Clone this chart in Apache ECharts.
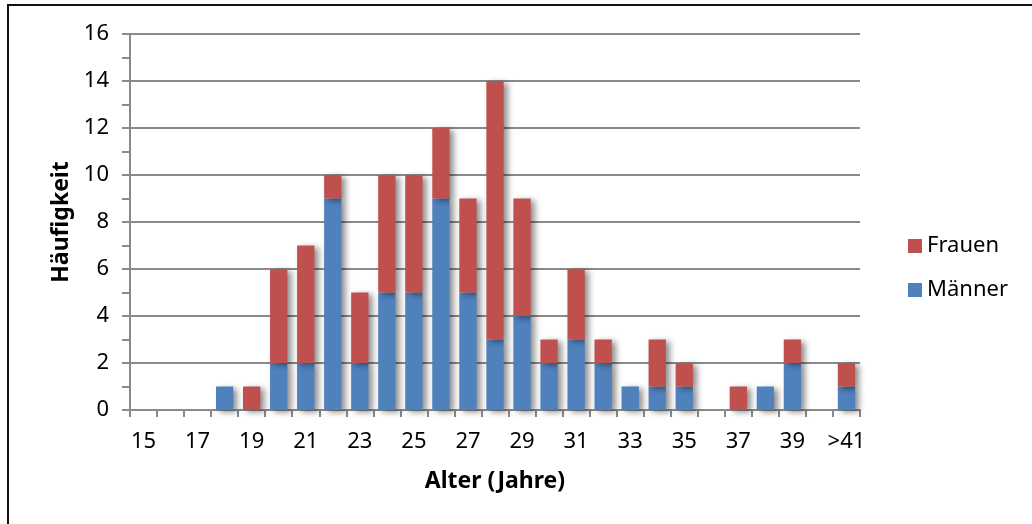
<!DOCTYPE html>
<html>
<head>
<meta charset="utf-8">
<script src="https://cdn.jsdelivr.net/npm/echarts@6/dist/echarts.min.js"></script>
<style>
html,body{margin:0;padding:0;background:#fff;}
#frame{position:absolute;left:7px;top:4px;width:1030px;height:530px;border-top:2px solid #111;border-left:2px solid #111;}
#chart{position:absolute;left:0;top:0;width:1032px;height:524px;}
</style>
</head>
<body>
<div id="frame"></div>
<div id="chart"></div>
<script>
const categories = ['15','16','17','18','19','20','21','22','23','24','25','26','27','28','29','30','31','32','33','34','35','36','37','38','39','40','>41'];
const maenner = [0,0,0,1,0,2,2,9,2,5,5,9,5,3,4,2,3,2,1,1,1,0,0,1,2,0,1];
const frauen  = [0,0,0,0,1,4,5,1,3,5,5,3,4,11,5,1,3,1,0,2,1,0,1,0,1,0,1];
const yTicks = [0,2,4,6,8,10,12,14,16];

const FONT = '"Noto Sans", sans-serif';
const axisGray = '#8a8a8a';
const shadow = {shadowColor:'rgba(0,0,0,0.45)', shadowBlur:6, shadowOffsetX:4, shadowOffsetY:2};
const nz = a => a.map(v => v === 0 ? '-' : v);

const chart = echarts.init(document.getElementById('chart'), null, {renderer:'canvas'});
chart.setOption({
  animation:false,
  backgroundColor:'transparent',
  grid:{left:130, right:172, top:34, bottom:114, containLabel:false},
  legend:{
    orient:'vertical', left:903, top:230, itemGap:22,
    itemWidth:14, itemHeight:14, icon:'rect',
    data:['Frauen','Männer'],
    textStyle:{fontFamily:FONT, fontSize:22, color:'#000', padding:[0,0,0,0]}
  },
  xAxis:{
    type:'category', data:categories,
    name:'Alter (Jahre)', nameLocation:'middle', nameGap:60,
    nameTextStyle:{fontFamily:FONT, fontSize:23, fontWeight:'bold', color:'#000'},
    axisLine:{lineStyle:{color:axisGray, width:2}},
    axisTick:{show:true, interval:0, length:7, lineStyle:{color:axisGray, width:2}},
    axisLabel:{interval:1, margin:21, fontFamily:FONT, fontSize:22, color:'#000'}
  },
  yAxis:{
    type:'value', min:yTicks[0], max:yTicks[yTicks.length-1], interval:2,
    name:'Häufigkeit', nameLocation:'middle', nameGap:56, nameRotate:90,
    nameTextStyle:{fontFamily:FONT, fontSize:23, fontWeight:'bold', color:'#000'},
    axisLine:{show:true, lineStyle:{color:axisGray, width:2}},
    axisTick:{show:true, length:8, lineStyle:{color:axisGray, width:2}},
    minorTick:{show:true, splitNumber:2, length:8, lineStyle:{color:axisGray, width:2}},
    splitLine:{show:true, lineStyle:{color:axisGray, width:2}},
    axisLabel:{margin:21, fontFamily:FONT, fontSize:22, color:'#000'}
  },
  series:[
    {name:'Männer', type:'bar', stack:'a', data:nz(maenner), barCategoryGap:'36%',
     itemStyle:Object.assign({color:'#4F81BD'}, shadow)},
    {name:'Frauen', type:'bar', stack:'a', data:nz(frauen), barCategoryGap:'36%',
     itemStyle:Object.assign({color:'#C0504D'}, shadow)}
  ]
});
</script>
</body>
</html>
